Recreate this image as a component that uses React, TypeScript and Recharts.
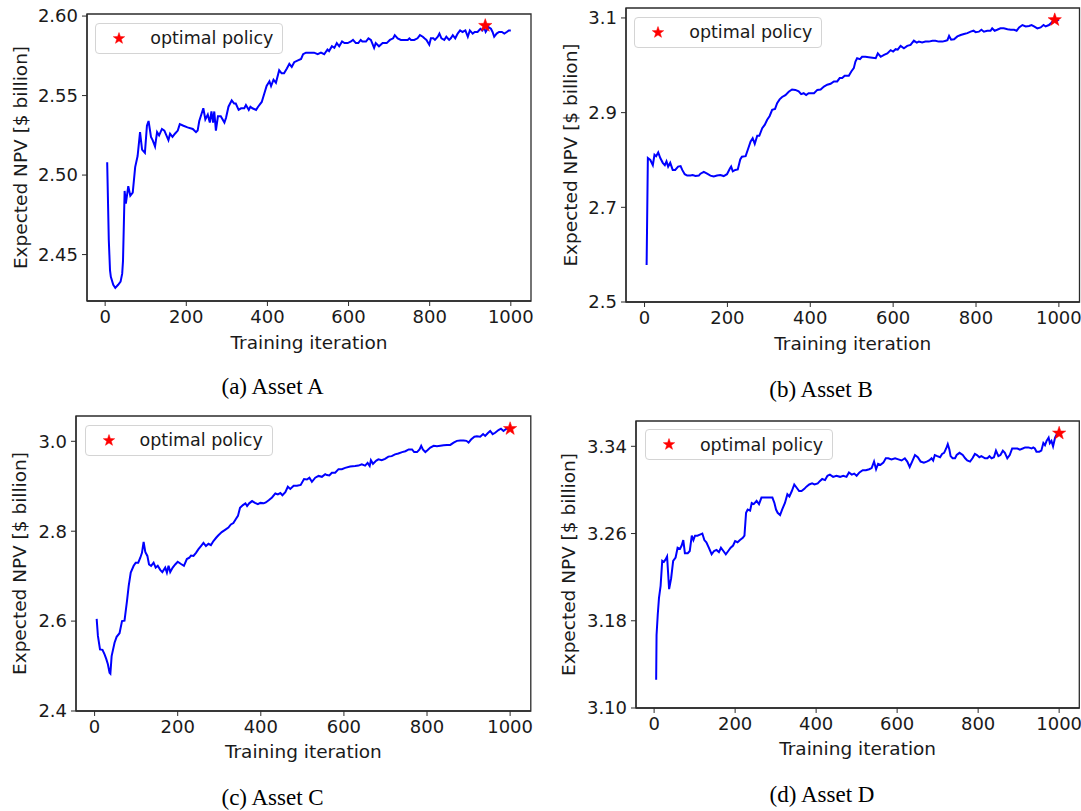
import React from "react";
import { ComposedChart, Line, Scatter, XAxis, YAxis, Legend, ReferenceArea } from "recharts";

const ITER_TICKS = [0, 200, 400, 600, 800, 1000];
const ITER_DOMAIN: [number, number] = [-44.75, 1049.75];

const assetAIter = [
  5, 9, 12, 14, 20, 25, 32, 38, 42, 44,
  48, 51, 57, 62, 68, 74, 80, 86, 91, 98,
  103, 107, 113, 117, 123, 128, 133, 140, 146, 151,
  156, 160, 166, 172, 179, 184, 193, 203, 216, 224,
  228, 232, 242, 247, 253, 258, 262, 266, 269, 273,
  278, 285, 294, 298, 304, 312, 318, 322, 329, 335,
  343, 347, 354, 358, 363, 372, 377, 386, 392, 398,
  405, 409, 415, 421, 429, 435, 441, 448, 454, 460,
  466, 474, 483, 488, 495, 507, 515, 524, 532, 540,
  548, 552, 559, 565, 571, 577, 584, 590, 598, 606,
  611, 618, 624, 630, 634, 643, 649, 655, 663, 667,
  675, 684, 694, 702, 710, 714, 721, 729, 737, 746,
  750, 754, 762, 770, 776, 783, 787, 792, 799, 803,
  809, 813, 820, 824, 829, 836, 841, 848, 852, 857,
  863, 869, 875, 881, 888, 894, 899, 906, 911, 918,
  925, 930, 934, 938, 945, 951, 955, 959, 965, 971,
  978, 984, 990, 995, 1000,
];
const assetANpv = [
  2.508, 2.459, 2.440, 2.436, 2.431, 2.429, 2.431, 2.433, 2.438, 2.446,
  2.490, 2.482, 2.493, 2.487, 2.489, 2.505, 2.512, 2.527, 2.516, 2.514,
  2.531, 2.534, 2.524, 2.522, 2.518, 2.527, 2.525, 2.529, 2.528, 2.525,
  2.522, 2.526, 2.524, 2.526, 2.528, 2.532, 2.531, 2.530, 2.529, 2.527,
  2.528, 2.534, 2.542, 2.535, 2.538, 2.533, 2.540, 2.533, 2.540, 2.528,
  2.537, 2.537, 2.533, 2.536, 2.543, 2.547, 2.545, 2.545, 2.541, 2.542,
  2.542, 2.544, 2.541, 2.543, 2.542, 2.541, 2.543, 2.546, 2.551, 2.556,
  2.559, 2.556, 2.560, 2.558, 2.566, 2.564, 2.564, 2.567, 2.570, 2.568,
  2.571, 2.572, 2.573, 2.576, 2.577, 2.577, 2.577, 2.576, 2.577, 2.576,
  2.579, 2.578, 2.581, 2.580, 2.583, 2.581, 2.584, 2.583, 2.583, 2.584,
  2.585, 2.583, 2.583, 2.585, 2.584, 2.584, 2.586, 2.585, 2.580, 2.583,
  2.581, 2.583, 2.583, 2.585, 2.586, 2.588, 2.586, 2.585, 2.585, 2.585,
  2.586, 2.585, 2.585, 2.586, 2.588, 2.587, 2.586, 2.585, 2.582, 2.586,
  2.586, 2.585, 2.587, 2.589, 2.586, 2.585, 2.587, 2.585, 2.586, 2.588,
  2.586, 2.589, 2.591, 2.590, 2.591, 2.587, 2.591, 2.589, 2.590, 2.590,
  2.592, 2.591, 2.593, 2.590, 2.593, 2.592, 2.590, 2.587, 2.589, 2.590,
  2.590, 2.589, 2.590, 2.591, 2.591,
];

const assetBIter = [
  5, 8, 14, 20, 24, 28, 33, 38, 44, 49,
  53, 57, 62, 68, 74, 81, 87, 91, 97, 103,
  111, 116, 123, 131, 135, 143, 151, 159, 167, 175,
  183, 191, 199, 206, 209, 213, 219, 225, 231, 235,
  244, 249, 256, 261, 266, 272, 277, 284, 290, 296,
  302, 308, 315, 320, 326, 332, 340, 348, 356, 364,
  372, 378, 384, 390, 396, 403, 409, 417, 425, 433,
  441, 449, 457, 465, 471, 477, 483, 493, 499, 505,
  509, 513, 520, 525, 533, 541, 550, 558, 563, 570,
  578, 586, 594, 600, 606, 611, 618, 626, 634, 642,
  650, 657, 662, 670, 678, 686, 695, 702, 710, 719,
  727, 731, 735, 740, 747, 755, 763, 771, 779, 787,
  794, 799, 807, 813, 819, 827, 835, 839, 845, 851,
  859, 867, 876, 884, 892, 898, 904, 912, 920, 928,
  934, 940, 948, 956, 963, 968, 976, 982, 988, 995,
  1000,
];
const assetBNpv = [
  2.578, 2.804, 2.800, 2.789, 2.811, 2.808, 2.816, 2.804, 2.794, 2.789,
  2.797, 2.786, 2.794, 2.779, 2.779, 2.786, 2.787, 2.779, 2.770, 2.767,
  2.767, 2.768, 2.766, 2.767, 2.771, 2.775, 2.771, 2.767, 2.765, 2.767,
  2.768, 2.766, 2.770, 2.782, 2.786, 2.776, 2.779, 2.780, 2.801, 2.807,
  2.808, 2.821, 2.839, 2.846, 2.834, 2.851, 2.851, 2.867, 2.874, 2.885,
  2.893, 2.906, 2.908, 2.920, 2.928, 2.933, 2.937, 2.944, 2.949, 2.948,
  2.945, 2.939, 2.941, 2.937, 2.941, 2.941, 2.941, 2.948, 2.949, 2.955,
  2.959, 2.961, 2.966, 2.966, 2.973, 2.973, 2.978, 2.978, 2.987, 2.994,
  3.008, 3.015, 3.013, 3.018, 3.018, 3.017, 3.016, 3.015, 3.025, 3.018,
  3.022, 3.025, 3.032, 3.029, 3.034, 3.033, 3.041, 3.036, 3.041, 3.043,
  3.052, 3.048, 3.050, 3.048, 3.050, 3.050, 3.052, 3.052, 3.050, 3.050,
  3.052, 3.053, 3.062, 3.054, 3.055, 3.061, 3.064, 3.066, 3.068, 3.071,
  3.073, 3.070, 3.071, 3.075, 3.071, 3.073, 3.073, 3.078, 3.073, 3.075,
  3.078, 3.078, 3.076, 3.075, 3.075, 3.073, 3.080, 3.085, 3.082, 3.083,
  3.085, 3.082, 3.078, 3.080, 3.085, 3.082, 3.085, 3.090, 3.096, 3.094,
  3.097,
];

const assetCIter = [
  5, 8, 13, 19, 24, 28, 32, 36, 38, 41,
  48, 53, 60, 66, 72, 78, 82, 87, 94, 99,
  105, 110, 114, 118, 122, 127, 131, 136, 142, 147,
  152, 158, 163, 170, 174, 178, 182, 188, 194, 200,
  208, 215, 222, 228, 232, 238, 244, 250, 256, 262,
  268, 274, 280, 286, 293, 298, 306, 314, 322, 328,
  334, 340, 345, 350, 357, 363, 367, 372, 379, 386,
  393, 399, 407, 412, 419, 427, 435, 441, 447, 452,
  459, 465, 471, 479, 487, 496, 504, 511, 517, 523,
  531, 539, 547, 555, 559, 565, 571, 579, 587, 595,
  603, 615, 627, 635, 643, 651, 657, 662, 665, 670,
  678, 683, 691, 699, 707, 715, 723, 731, 740, 748,
  756, 764, 769, 776, 782, 786, 790, 796, 801, 808,
  816, 824, 832, 840, 848, 856, 864, 872, 880, 888,
  895, 900, 906, 914, 920, 928, 935, 940, 946, 952,
  958, 964, 972, 978, 984, 991, 1000,
];
const assetCNpv = [
  2.605, 2.567, 2.537, 2.536, 2.526, 2.516, 2.504, 2.485, 2.483, 2.522,
  2.552, 2.565, 2.573, 2.600, 2.601, 2.645, 2.678, 2.708, 2.723, 2.730,
  2.730, 2.741, 2.752, 2.776, 2.754, 2.745, 2.726, 2.723, 2.730, 2.719,
  2.723, 2.714, 2.709, 2.719, 2.708, 2.723, 2.709, 2.719, 2.726, 2.732,
  2.727, 2.723, 2.738, 2.741, 2.746, 2.745, 2.752, 2.760, 2.767, 2.774,
  2.767, 2.772, 2.769, 2.778, 2.786, 2.791, 2.798, 2.803, 2.808, 2.815,
  2.818, 2.827, 2.834, 2.852, 2.858, 2.862, 2.856, 2.862, 2.867, 2.863,
  2.860, 2.863, 2.862, 2.864, 2.869, 2.875, 2.884, 2.882, 2.885, 2.880,
  2.887, 2.899, 2.894, 2.901, 2.901, 2.903, 2.916, 2.915, 2.919, 2.910,
  2.919, 2.923, 2.921, 2.927, 2.925, 2.924, 2.930, 2.930, 2.938, 2.938,
  2.941, 2.944, 2.945, 2.946, 2.949, 2.946, 2.952, 2.945, 2.958, 2.950,
  2.957, 2.960, 2.958, 2.961, 2.966, 2.967, 2.971, 2.973, 2.976, 2.978,
  2.982, 2.982, 2.976, 2.976, 2.982, 2.990, 2.982, 2.976, 2.980, 2.986,
  2.990, 2.989, 2.990, 2.991, 2.992, 2.992, 2.997, 3.001, 3.002, 3.002,
  3.001, 2.997, 3.004, 3.010, 3.011, 3.010, 3.016, 3.012, 3.018, 3.023,
  3.016, 3.019, 3.025, 3.028, 3.023, 3.028, 3.028,
];

const assetDIter = [
  5, 6, 9, 12, 16, 20, 24, 28, 32, 37,
  42, 47, 53, 58, 64, 68, 72, 76, 83, 88,
  93, 97, 101, 107, 113, 119, 124, 129, 135, 142,
  148, 154, 160, 165, 171, 177, 183, 189, 195, 200,
  206, 212, 219, 223, 227, 231, 237, 241, 246, 253,
  259, 265, 274, 282, 292, 297, 301, 305, 311, 316,
  323, 329, 334, 340, 346, 352, 358, 364, 371, 376,
  383, 390, 396, 404, 409, 415, 422, 428, 434, 442,
  450, 459, 467, 475, 481, 488, 494, 500, 507, 515,
  523, 531, 537, 543, 548, 553, 559, 566, 572, 578,
  586, 595, 603, 611, 619, 625, 631, 637, 644, 651,
  658, 666, 673, 679, 685, 689, 693, 699, 706, 711,
  716, 721, 725, 729, 732, 737, 743, 747, 754, 762,
  768, 773, 780, 786, 792, 797, 803, 808, 817, 823,
  828, 833, 839, 844, 850, 855, 861, 866, 872, 878,
  884, 891, 897, 903, 910, 916, 924, 932, 936, 940,
  944, 951, 956, 961, 965, 969, 974, 977, 981, 985,
  990, 994, 1000,
];
const assetDNpv = [
  3.126, 3.167, 3.186, 3.201, 3.212, 3.235, 3.234, 3.236, 3.239, 3.209,
  3.219, 3.235, 3.238, 3.247, 3.246, 3.249, 3.254, 3.242, 3.242, 3.244,
  3.258, 3.254, 3.258, 3.258, 3.259, 3.260, 3.254, 3.252, 3.247, 3.241,
  3.244, 3.245, 3.243, 3.247, 3.244, 3.241, 3.244, 3.247, 3.249, 3.253,
  3.252, 3.254, 3.256, 3.258, 3.279, 3.282, 3.281, 3.288, 3.287, 3.290,
  3.287, 3.293, 3.293, 3.293, 3.293, 3.288, 3.282, 3.279, 3.277, 3.282,
  3.288, 3.296, 3.294, 3.299, 3.305, 3.302, 3.299, 3.299, 3.301, 3.303,
  3.305, 3.306, 3.305, 3.306, 3.308, 3.310, 3.309, 3.313, 3.314, 3.312,
  3.313, 3.312, 3.313, 3.312, 3.316, 3.314, 3.315, 3.313, 3.316, 3.318,
  3.318, 3.319, 3.320, 3.326, 3.319, 3.324, 3.323, 3.325, 3.329, 3.329,
  3.328, 3.329, 3.328, 3.327, 3.329, 3.326, 3.321, 3.326, 3.332, 3.330,
  3.326, 3.325, 3.326, 3.327, 3.329, 3.327, 3.332, 3.331, 3.330, 3.333,
  3.334, 3.338, 3.342, 3.337, 3.331, 3.329, 3.329, 3.332, 3.334, 3.332,
  3.329, 3.327, 3.326, 3.329, 3.333, 3.332, 3.330, 3.331, 3.329, 3.329,
  3.331, 3.329, 3.330, 3.336, 3.331, 3.332, 3.336, 3.334, 3.329, 3.332,
  3.338, 3.338, 3.338, 3.337, 3.338, 3.339, 3.339, 3.338, 3.339, 3.338,
  3.335, 3.335, 3.336, 3.343, 3.341, 3.345, 3.348, 3.343, 3.345, 3.340,
  3.348, 3.351, 3.352,
];

// best policy found in each run
const optimalIter = [937, 990, 1000, 1000];
const optimalNpv = [2.594, 3.096, 3.028, 3.352];

const assetATicks = [2.45, 2.5, 2.55, 2.6];
const assetBTicks = [2.5, 2.7, 2.9, 3.1];
const assetCTicks = [2.4, 2.6, 2.8, 3.0];
const assetDTicks = [3.1, 3.18, 3.26, 3.34];

const captions = ["(a) Asset A", "(b) Asset B", "(c) Asset C", "(d) Asset D"];

const YW = 80;
const MT = 10;
const MR = 8;
const XH = 60;
const TEXT = "#1a1a1a";
const FRAME = "#2b2b2b";
const FS = 18;

function StarMark({ cx, cy, r }: { cx: number; cy: number; r: number }) {
  const pts: string[] = [];
  for (let i = 0; i < 10; i++) {
    const a = -Math.PI / 2 + (i * Math.PI) / 5;
    const rr = i % 2 === 0 ? r : r * 0.4;
    pts.push(`${cx + rr * Math.cos(a)},${cy + rr * Math.sin(a)}`);
  }
  return <polygon points={pts.join(" ")} fill="#ff0000" stroke="#ff0000" strokeWidth={0.5} />;
}

function renderLegend(props: any) {
  const items = (props.payload || []).filter((p: any) => p.type !== "none");
  return (
    <div
      style={{
        boxSizing: "border-box",
        height: 31,
        border: "1px solid #d4d4d4",
        borderRadius: 4,
        background: "rgba(255,255,255,0.85)",
        display: "flex",
        alignItems: "center",
        paddingRight: 9,
        fontSize: 17.5,
        color: TEXT,
        whiteSpace: "nowrap",
      }}
    >
      {items.map((it: any) => (
        <React.Fragment key={it.value}>
          <svg width={54} height={29} style={{ flex: "none" }}>
            <StarMark cx={23} cy={14.5} r={6} />
          </svg>
          <span>{it.value}</span>
        </React.Fragment>
      ))}
    </div>
  );
}

interface PanelProps {
  iters: number[];
  npv: number[];
  yTicks: number[];
  yDomain: [number, number];
  digits: number;
  frame: { left: number; top: number; width: number; height: number };
  yLabelGap: number;
  best: number;
}

function Panel({ iters, npv, yTicks, yDomain, digits, frame, yLabelGap, best }: PanelProps) {
  const data = iters.map((it, i) => ({ iter: it, npv: npv[i] }));
  const star = [{ iter: optimalIter[best], npv: optimalNpv[best] }];
  const yLabel = (p: any) => {
    const vb = p.viewBox;
    const x = vb.x + vb.width - yLabelGap;
    const y = vb.y + vb.height / 2;
    return (
      <text x={x} y={y} transform={`rotate(-90, ${x}, ${y})`} textAnchor="middle" dominantBaseline="central" fontSize={18.5} fill={TEXT}>
        Expected NPV [$ billion]
      </text>
    );
  };
  const xLabel = (p: any) => {
    const vb = p.viewBox;
    return (
      <text x={vb.x + vb.width / 2} y={vb.y + 41} textAnchor="middle" dominantBaseline="central" fontSize={18.5} fill={TEXT}>
        Training iteration
      </text>
    );
  };
  return (
    <div style={{ position: "absolute", left: frame.left - YW, top: frame.top - MT }}>
      <ComposedChart
        width={YW + frame.width + MR}
        height={MT + frame.height + XH}
        data={data}
        margin={{ top: MT, right: MR, bottom: 0, left: 0 }}
      >
        <XAxis
          dataKey="iter"
          type="number"
          domain={ITER_DOMAIN}
          allowDataOverflow
          ticks={ITER_TICKS}
          interval={0}
          height={XH}
          tickSize={5}
          tickMargin={4}
          tick={{ fontSize: FS, fill: TEXT }}
          stroke={FRAME}
          axisLine={{ stroke: FRAME, strokeWidth: 1.3 }}
          label={xLabel}
        />
        <YAxis
          dataKey="npv"
          type="number"
          domain={yDomain}
          allowDataOverflow
          ticks={yTicks}
          interval={0}
          width={YW}
          tickSize={5}
          tickMargin={4}
          tickFormatter={(v: number) => v.toFixed(digits)}
          tick={{ fontSize: FS, fill: TEXT }}
          stroke={FRAME}
          axisLine={{ stroke: FRAME, strokeWidth: 1.3 }}
          label={yLabel}
        />
        <ReferenceArea
          x1={ITER_DOMAIN[0]}
          x2={ITER_DOMAIN[1]}
          y1={yDomain[0]}
          y2={yDomain[1]}
          fill="none"
          fillOpacity={0}
          stroke={FRAME}
          strokeWidth={1.3}
          ifOverflow="visible"
        />
        <Legend
          verticalAlign="middle"
          align="center"
          layout="horizontal"
          wrapperStyle={{ top: MT + 8.7, left: YW + 8.7, width: "auto" }}
          content={renderLegend}
        />
        <Line
          type="linear"
          dataKey="npv"
          stroke="#0000ff"
          strokeWidth={2}
          dot={false}
          activeDot={false}
          legendType="none"
          isAnimationActive={false}
        />
        <Scatter
          name="optimal policy"
          data={star}
          dataKey="npv"
          legendType="star"
          fill="#ff0000"
          shape={(p: any) => <StarMark cx={p.cx} cy={p.cy} r={7} />}
          isAnimationActive={false}
        />
      </ComposedChart>
    </div>
  );
}

const captionStyle = (x: number, y: number): React.CSSProperties => ({
  position: "absolute",
  left: x,
  top: y,
  transform: "translate(-50%, -50%)",
  fontFamily: "'Liberation Serif', 'Times New Roman', serif",
  fontSize: 23,
  color: "#000",
  whiteSpace: "nowrap",
});

export default function App() {
  return (
    <div
      style={{
        position: "absolute",
        left: 0,
        top: 0,
        width: 1081,
        height: 811,
        overflow: "hidden",
        background: "#fff",
        fontFamily: "'DejaVu Sans', sans-serif",
      }}
    >
      <Panel iters={assetAIter} npv={assetANpv} yTicks={assetATicks} yDomain={[2.4208, 2.6013]} digits={2}
        frame={{ left: 86.5, top: 14, width: 444, height: 287 }} yLabelGap={67} best={0} />
      <Panel iters={assetBIter} npv={assetBNpv} yTicks={assetBTicks} yDomain={[2.5, 3.121]} digits={1}
        frame={{ left: 625.5, top: 8, width: 453.5, height: 294 }} yLabelGap={56} best={1} />
      <Panel iters={assetCIter} npv={assetCNpv} yTicks={assetCTicks} yDomain={[2.4, 3.0563]} digits={1}
        frame={{ left: 75.8, top: 416, width: 454.8, height: 295 }} yLabelGap={56} best={2} />
      <Panel iters={assetDIter} npv={assetDNpv} yTicks={assetDTicks} yDomain={[3.1, 3.3632]} digits={2}
        frame={{ left: 636.2, top: 420.7, width: 443.3, height: 287 }} yLabelGap={67} best={3} />
      <div style={captionStyle(272.6, 387)}>{captions[0]}</div>
      <div style={captionStyle(821, 390)}>{captions[1]}</div>
      <div style={captionStyle(272.6, 798)}>{captions[2]}</div>
      <div style={captionStyle(822, 795)}>{captions[3]}</div>
    </div>
  );
}
